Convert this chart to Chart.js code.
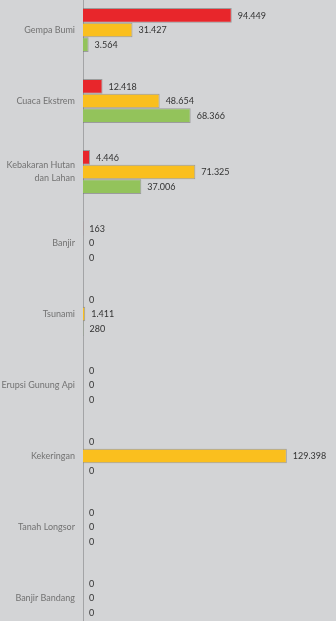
<!DOCTYPE html>
<html>
<head>
<meta charset="utf-8">
<script src="https://cdn.jsdelivr.net/npm/chart.js@4"></script>
<style>
    html, body { margin: 0; padding: 0; background: #d3d4d6; overflow: hidden; }
    #wrap { position: relative; top: -20px; width: 336px; height: 668px; }
</style>
</head>
<body>
<div id="wrap"><canvas id="disasterChart" width="336" height="668"></canvas></div>
<script>
const categories = [
    'Gempa Bumi',
    'Cuaca Ekstrem',
    ['Kebakaran Hutan', 'dan Lahan'],
    'Banjir',
    'Tsunami',
    'Erupsi Gunung Api',
    'Kekeringan',
    'Tanah Longsor',
    'Banjir Bandang',
]
const redValues = [94449, 12418, 4446, 163, 0, 0, 0, 0, 0]
const yellowValues = [31427, 48654, 71325, 0, 1411, 0, 129398, 0, 0]
const greenValues = [3564, 68366, 37006, 0, 280, 0, 0, 0, 0]

const seriesColors = {
    red: '#e8262b',
    yellow: '#fabf1e',
    green: '#93c35b',
}

function formatThousands(value) {
    return String(value).replace(/\B(?=(\d{3})+(?!\d))/g, '.')
}

const barValueLabels = {
    id: 'barValueLabels',
    afterDatasetsDraw(chart) {
        const ctx = chart.ctx
        ctx.save()
        ctx.fillStyle = '#333333'
        ctx.font = '9px Lato, sans-serif'
        ctx.textAlign = 'left'
        ctx.textBaseline = 'middle'
        chart.data.datasets.forEach((dataset, i) => {
            const meta = chart.getDatasetMeta(i)
            meta.data.forEach((bar, j) => {
                ctx.fillText(formatThousands(dataset.data[j]), bar.x + 6, bar.y + 0.5)
            })
        })
        ctx.restore()
    },
}

function makeDataset(label, data, color) {
    return {
        label,
        data,
        backgroundColor: color,
        borderColor: 'rgba(110, 110, 110, 0.55)',
        borderWidth: 1,
        borderSkipped: 'left',
        categoryPercentage: 0.62,
        barPercentage: 1,
    }
}

new Chart(document.getElementById('disasterChart').getContext('2d'), {
    type: 'bar',
    plugins: [barValueLabels],
    data: {
        labels: categories,
        datasets: [
            makeDataset('Merah', redValues, seriesColors.red),
            makeDataset('Kuning', yellowValues, seriesColors.yellow),
            makeDataset('Hijau', greenValues, seriesColors.green),
        ],
    },
    options: {
        indexAxis: 'y',
        responsive: false,
        animation: false,
        layout: {padding: {top: 0, bottom: 0, left: 0, right: 1}},
        plugins: {
            legend: {display: false},
            tooltip: {enabled: false},
        },
        scales: {
            x: {
                display: false,
                min: 0,
                max: 160000,
            },
            y: {
                afterFit: scale => { scale.width = 83 },
                grid: {display: false, drawTicks: false},
                border: {display: true, color: '#a3a4a6', width: 1},
                ticks: {
                    color: '#727272',
                    padding: 8,
                    font: {family: 'Lato, sans-serif', size: 9, lineHeight: 1.45},
                },
            },
        },
    },
})
</script>
</body>
</html>
